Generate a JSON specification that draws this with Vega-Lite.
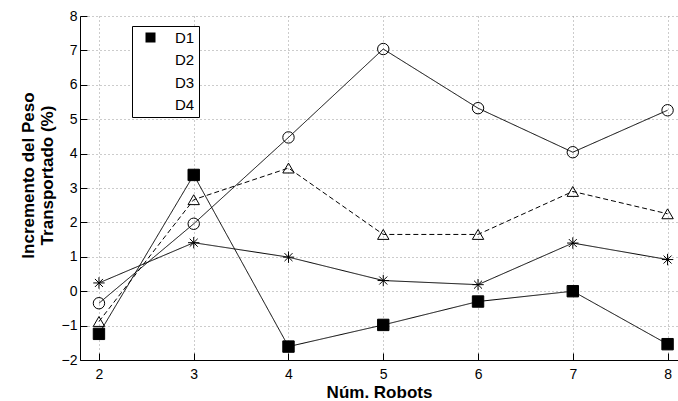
{
  "$schema": "https://vega.github.io/schema/vega-lite/v6.json",
  "autosize": "none",
  "padding": {"left": 80, "top": 16, "right": 0, "bottom": 41},
  "width": 598,
  "height": 344,
  "background": "white",
  "config": {
    "view": {"stroke": null},
    "font": "Liberation Sans",
    "axis": {
      "labelFont": "Liberation Sans",
      "labelFontSize": 14,
      "labelColor": "black",
      "titleFont": "Liberation Sans",
      "titleFontSize": 17,
      "titleFontWeight": "bold",
      "titleColor": "black",
      "domainColor": "black",
      "tickColor": "black",
      "tickSize": -7,
      "grid": true,
      "gridColor": "#999999",
      "gridDash": [1, 3],
      "gridWidth": 1
    },
    "legend": {
      "title": null,
      "orient": "none",
      "legendX": 52,
      "legendY": 10,
      "strokeColor": "black",
      "fillColor": "white",
      "padding": 4,
      "labelFont": "Liberation Sans",
      "labelFontSize": 15,
      "labelColor": "black",
      "labelOffset": 17,
      "rowPadding": 6,
      "symbolOffset": 7,
      "symbolOpacity": 1,
      "symbolStrokeColor": "black",
      "symbolStrokeWidth": 1
    }
  },
  "data": {
    "values": [
      {"n": 2, "serie": "D1", "v": -1.24},
      {"n": 3, "serie": "D1", "v": 3.38},
      {"n": 4, "serie": "D1", "v": -1.61},
      {"n": 5, "serie": "D1", "v": -0.98},
      {"n": 6, "serie": "D1", "v": -0.30},
      {"n": 7, "serie": "D1", "v": 0.0},
      {"n": 8, "serie": "D1", "v": -1.54},
      {"n": 2, "serie": "D2", "v": 0.24},
      {"n": 3, "serie": "D2", "v": 1.41},
      {"n": 4, "serie": "D2", "v": 0.99},
      {"n": 5, "serie": "D2", "v": 0.31},
      {"n": 6, "serie": "D2", "v": 0.19},
      {"n": 7, "serie": "D2", "v": 1.40},
      {"n": 8, "serie": "D2", "v": 0.92},
      {"n": 2, "serie": "D3", "v": -0.88},
      {"n": 3, "serie": "D3", "v": 2.66},
      {"n": 4, "serie": "D3", "v": 3.58},
      {"n": 5, "serie": "D3", "v": 1.65},
      {"n": 6, "serie": "D3", "v": 1.65},
      {"n": 7, "serie": "D3", "v": 2.90},
      {"n": 8, "serie": "D3", "v": 2.25},
      {"n": 2, "serie": "D4", "v": -0.35},
      {"n": 3, "serie": "D4", "v": 1.96},
      {"n": 4, "serie": "D4", "v": 4.47},
      {"n": 5, "serie": "D4", "v": 7.04},
      {"n": 6, "serie": "D4", "v": 5.32},
      {"n": 7, "serie": "D4", "v": 4.04},
      {"n": 8, "serie": "D4", "v": 5.26}
    ]
  },
  "encoding": {
    "x": {
      "field": "n", "type": "quantitative",
      "scale": {"domain": [1.8, 8.11], "nice": false, "zero": false},
      "axis": {"title": "Núm. Robots", "values": [2, 3, 4, 5, 6, 7, 8], "labelPadding": 14, "titlePadding": 3}
    },
    "y": {
      "field": "v", "type": "quantitative",
      "scale": {"domain": [-2, 8], "nice": false, "zero": false},
      "axis": {"title": ["Incremento del Peso", "Transportado (%)"], "values": [-2, -1, 0, 1, 2, 3, 4, 5, 6, 7, 8], "labelPadding": 10, "titlePadding": 5, "titleY": 159}
    }
  },
  "layer": [
    {
      "mark": {"type": "line", "color": "black", "strokeWidth": 1},
      "encoding": {
        "detail": {"field": "serie"},
        "strokeDash": {
          "field": "serie", "type": "nominal",
          "scale": {"domain": ["D1", "D2", "D3", "D4"], "range": [[1, 0], [1, 0], [5, 3], [1, 0]]},
          "legend": null
        }
      }
    },
    {
      "mark": {"type": "point", "filled": true, "stroke": "black", "strokeWidth": 1, "size": 130, "opacity": 1},
      "encoding": {
        "shape": {
          "field": "serie", "type": "nominal",
          "scale": {"domain": ["D1", "D2", "D3", "D4"], "range": ["square", "M0,-1V1M-1,0H1M-0.7,-0.7L0.7,0.7M-0.7,0.7L0.7,-0.7", "triangle-up", "circle"]},
          "legend": null
        },
        "fill": {
          "field": "serie", "type": "nominal",
          "scale": {"domain": ["D1", "D2", "D3", "D4"], "range": ["black", "transparent", "transparent", "transparent"]},
          "legend": null
        }
      }
    },
    {
      "transform": [{"filter": "false"}],
      "mark": {"type": "point", "filled": false, "color": "black", "stroke": "black", "strokeWidth": 1, "size": 100, "opacity": 1},
      "encoding": {
        "shape": {
          "field": "serie", "type": "nominal",
          "scale": {"domain": ["D1", "D2", "D3", "D4"], "range": [
            "M-2.3,0H2.3M-1,-1H1V1H-1Z",
            "M-2.3,0H2.3M0,-1.1V1.1M-0.8,-0.8L0.8,0.8M-0.8,0.8L0.8,-0.8",
            "M-2.3,0H-1.7M-1.3,0H-0.7M0.7,0H1.3M1.7,0H2.3M0,-1.2L1.2,0.9H-1.2Z",
            "M-2.3,0H2.3M1.1,0A1.1,1.1 0 1,1 -1.1,0A1.1,1.1 0 1,1 1.1,0"
          ]}
        },
        "fill": {
          "field": "serie", "type": "nominal",
          "scale": {"domain": ["D1", "D2", "D3", "D4"], "range": ["black", "transparent", "transparent", "transparent"]}
        }
      }
    }
  ],
  "resolve": {
    "scale": {"shape": "independent", "fill": "independent", "strokeDash": "independent"},
    "legend": {"shape": "independent", "fill": "independent", "strokeDash": "independent"}
  }
}
